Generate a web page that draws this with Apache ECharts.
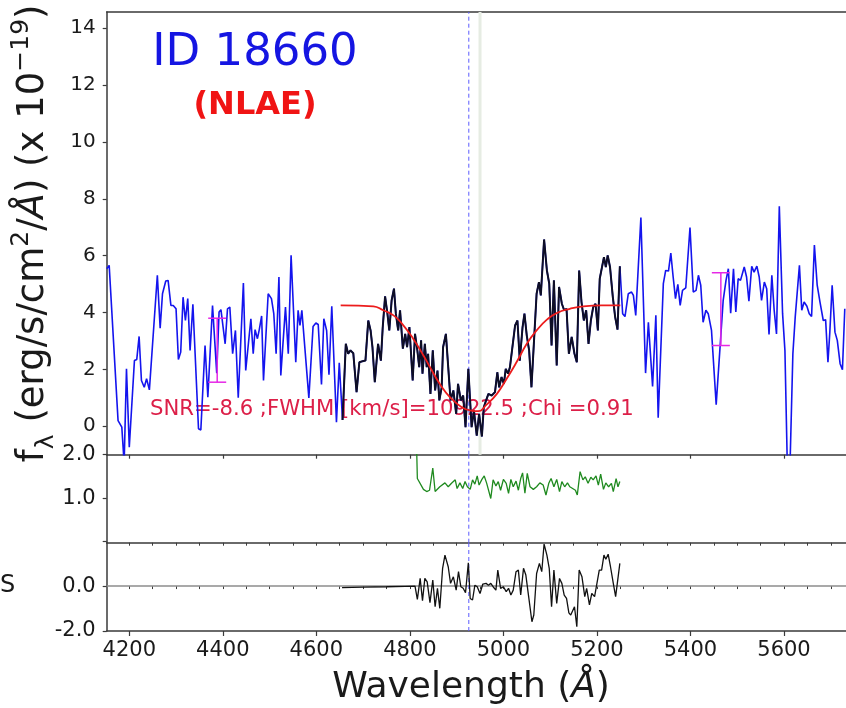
<!DOCTYPE html>
<html>
<head>
<meta charset="utf-8">
<script src="https://cdn.jsdelivr.net/npm/echarts@6/dist/echarts.min.js"></script>
<style>
  html, body { margin: 0; padding: 0; background: #ffffff; }
  #chart { width: 846px; height: 708px; }
</style>
</head>
<body>
<div id="chart"></div>
<script>
// ---- Spectrum of ID 18660 (flux in 1e-19 erg/s/cm^2/A) ----
const specWave = [
  4152, 4157, 4176, 4184, 4189, 4194, 4200, 4211, 4216, 4221, 4226, 4232, 4237, 4243,
  4260, 4266, 4271, 4278, 4283, 4289, 4294, 4300, 4305, 4310, 4315, 4320, 4325, 4330,
  4336, 4348, 4353, 4362, 4368, 4378, 4387, 4392, 4396, 4400, 4405, 4410, 4415, 4421,
  4427, 4433, 4444, 4449, 4460, 4465, 4469, 4474, 4478, 4483, 4487, 4497, 4504, 4509,
  4514, 4520, 4524, 4534, 4540, 4546, 4556, 4561, 4565, 4569, 4584, 4593, 4599, 4604,
  4611, 4616, 4622, 4627, 4633, 4643, 4649,
  4656, 4663, 4668, 4673, 4679, 4686, 4692, 4699, 4705, 4711, 4716, 4720, 4725, 4732,
  4738, 4742, 4747, 4752, 4756, 4761, 4766, 4770, 4775, 4779, 4785, 4790, 4794, 4799,
  4806, 4811, 4816, 4820, 4824, 4827, 4832, 4836, 4839, 4844, 4849, 4854, 4859, 4863,
  4868, 4871, 4877, 4882, 4887, 4893, 4899, 4903, 4909, 4914, 4919, 4925, 4932, 4937,
  4943, 4948, 4954, 4958, 4963, 4968, 4975, 4982, 4987, 4991, 4996, 5001, 5005, 5010,
  5014, 5025, 5030, 5035, 5041, 5045, 5050, 5055, 5060, 5071, 5076, 5080, 5087, 5093,
  5098, 5103, 5108, 5114, 5119, 5125, 5130, 5135, 5140, 5146, 5152, 5157, 5162, 5167,
  5172, 5177, 5182, 5187, 5192, 5197, 5202, 5206, 5210, 5215, 5219, 5223, 5228, 5234,
  5239, 5244, 5249,
  5255, 5260, 5267, 5274, 5278, 5283, 5294, 5304, 5310, 5319, 5326, 5331, 5342, 5347,
  5353, 5358, 5363, 5368, 5373, 5378, 5383, 5390, 5399, 5406, 5412, 5417, 5422, 5427,
  5433, 5438, 5445, 5455, 5470, 5476, 5481, 5486, 5492, 5497, 5502, 5507, 5515, 5520,
  5525, 5531, 5536, 5542, 5547, 5552, 5558, 5563, 5568, 5574, 5579, 5584, 5590, 5597,
  5602, 5607, 5613, 5619, 5624, 5628, 5633, 5638, 5643, 5649, 5654, 5659, 5665, 5671,
  5677, 5684, 5689, 5694, 5698, 5703, 5709, 5714, 5720, 5725, 5730
];
const specFlux = [
  5.54, 5.66, 0.20, -0.03, -1.30, 2.02, -0.74, 2.31, 2.35, 3.16, 1.61, 1.37, 1.67, 1.28,
  5.31, 3.45, 4.66, 5.11, 5.13, 4.25, 4.25, 4.13, 2.35, 2.61, 4.54, 3.72, 4.49, 2.67,
  4.29, -0.09, -0.13, 2.84, 1.02, 4.25, 1.87, 4.02, 4.10, 4.16, 2.90, 4.13, 4.19, 2.55,
  3.37, 1.00, 5.04, 1.96, 3.78, 2.55, 3.40, 3.08, 3.40, 3.88, 1.61, 4.66, 4.49, 3.96,
  2.55, 5.25, 1.79, 4.19, 2.55, 6.01, 2.25, 4.08, 3.55, 4.08, 1.00, 3.51, 3.63, 3.58,
  1.47, 3.78, 3.37, 1.81, 4.22, 0.14, 2.23,
  0.22, 2.90, 2.55, 2.67, 2.57, 1.20, 2.25, 2.29, 2.31, 3.72, 3.37, 2.78, 1.55, 2.90,
  2.31, 3.49, 4.57, 3.96, 3.37, 4.43, 4.84, 3.96, 3.37, 4.08, 2.73, 3.25, 2.78, 3.49,
  1.61, 3.25, 2.67, 2.08, 3.02, 1.85, 2.90, 2.08, 2.55, 1.14, 2.67, 1.26, 1.96, 0.91,
  1.37, 2.78, 3.25, 2.08, 0.91, 1.26, 0.44, 1.49, 0.91, 1.08, -0.03, 2.02, -0.03, 0.55,
  -0.33, 0.44, -0.36, 0.67, 0.91, 1.14, 1.08, 1.20, 1.90, 1.37, 1.73, 1.49, 2.02, 1.85,
  2.08, 3.55, 3.72, 2.31, 3.49, 3.96, 3.19, 2.67, 1.37, 4.66, 5.07, 4.60, 6.57, 5.48,
  5.02, 2.84, 5.13, 2.14, 4.90, 4.31, 4.08, 4.13, 2.55, 3.14, 2.55, 2.25, 5.48, 4.37,
  3.72, 4.08, 2.90, 3.72, 4.19, 4.31, 3.37, 5.19, 5.13, 5.95, 5.60, 6.01, 5.60, 4.54,
  3.84, 3.40, 5.63,
  3.96, 3.86, 4.66, 4.72, 4.60, 3.90, 7.34, 1.87, 3.66, 1.40, 3.90, 0.30, 5.02, 5.48,
  5.46, 6.09, 5.25, 4.49, 4.99, 4.25, 4.78, 4.87, 6.99, 4.72, 4.78, 5.31, 4.96, 3.66,
  4.08, 3.96, 3.37, 0.76, 4.43, 5.13, 5.54, 3.98, 5.54, 4.02, 5.19, 5.13, 5.60, 5.25,
  4.40, 5.63, 5.42, 5.63, 5.25, 4.43, 5.07, 4.84, 3.23, 5.31, 4.08, 3.25, 7.74, 3.96,
  2.67, -1.30, -1.30, 2.55, 3.84, 3.86, 5.66, 4.08, 4.37, 4.22, 3.96, 3.86, 6.37, 4.96,
  4.37, 3.72, 3.75, 2.25, 3.31, 4.96, 3.31, 3.02, 2.20, 1.99, 4.13
];

// Wavelength window used for the line fit
const fitWindow = [4656, 5249];

// Fitted absorption profile
const modelWave = [
  4652, 4690, 4722, 4743, 4765, 4783, 4807, 4829, 4843, 4864, 4886, 4911, 4932,
  4946, 4964, 4986, 5007, 5028, 5050, 5071, 5093, 5114, 5142, 5171, 5210, 5250
];
const modelFlux = [
  4.25, 4.24, 4.22, 4.08, 3.90, 3.61, 3.08, 2.49, 2.08, 1.49, 1.02, 0.67, 0.55,
  0.53, 0.76, 1.14, 1.67, 2.25, 2.90, 3.37, 3.75, 3.98, 4.13, 4.22, 4.25, 4.25
];

// Flux uncertainty bars
const errWave = [4388, 5465];
const errLow = [1.55, 2.84];
const errHigh = [3.80, 5.40];

// Middle panel (noise ratio)
const noiseWave = [
  4813, 4816, 4829, 4836, 4842, 4845, 4849, 4854, 4864, 4875, 4882, 4889, 4897, 4901,
  4907, 4913, 4918, 4923, 4929, 4934, 4939, 4944, 4948, 4954, 4959, 4964, 4973, 4978,
  4984, 4989, 4994, 5000, 5006, 5011, 5016, 5021, 5027, 5032, 5037, 5041, 5046, 5051,
  5057, 5064, 5071, 5078, 5085, 5091, 5097, 5102, 5108, 5114, 5120, 5125, 5131, 5137,
  5142, 5148, 5154, 5158, 5164, 5170, 5175, 5181, 5187, 5192, 5198, 5203, 5208, 5214,
  5219, 5225, 5231, 5235, 5241, 5245, 5249
];
const noiseVal = [
  2.80, 1.45, 1.20, 1.15, 1.18, 1.15, 1.69, 1.15, 1.26, 1.35, 1.26, 1.34, 1.42, 1.22,
  1.35, 1.22, 1.38, 1.26, 1.20, 1.42, 1.32, 1.51, 1.30, 1.43, 1.51, 1.35, 0.99, 1.42,
  1.28, 1.38, 1.18, 1.43, 1.34, 1.11, 1.43, 1.26, 1.39, 1.18, 1.45, 1.58, 1.11, 1.57,
  1.26, 1.20, 1.26, 1.35, 1.30, 1.07, 1.34, 1.45, 1.26, 1.43, 1.15, 1.38, 1.26, 1.35,
  1.26, 1.22, 1.18, 1.07, 1.61, 1.42, 1.49, 1.34, 1.48, 1.42, 1.51, 1.30, 1.55, 1.20,
  1.35, 1.26, 1.34, 1.15, 1.45, 1.26, 1.38
];

// Bottom panel (fit residuals)
const residWave = [
  4655, 4700, 4750, 4790, 4811, 4816, 4822, 4827, 4832, 4837, 4843, 4849, 4854, 4859,
  4864, 4870, 4875, 4882, 4887, 4893, 4899, 4904, 4909, 4914, 4919, 4925, 4929, 4934,
  4939, 4944, 4950, 4956, 4963, 4968, 4973, 4978, 4984, 4988, 4994, 5000, 5006, 5011,
  5016, 5021, 5027, 5032, 5037, 5043, 5048, 5054, 5061, 5065, 5071, 5077, 5082, 5087,
  5093, 5098, 5103, 5108, 5114, 5120, 5125, 5130, 5135, 5140, 5144, 5148, 5152, 5157,
  5162, 5168, 5174, 5178, 5184, 5189, 5195, 5200, 5205, 5210, 5215, 5219, 5224, 5229,
  5235, 5240, 5244, 5249
];
const residVal = [
  -0.07, -0.05, -0.03, -0.01, 0.00, -0.59, 0.34, -0.65, 0.34, 0.19, -0.74, 0.27, -0.92, -0.10,
  -0.99, 0.79, 1.38, 0.86, 0.12, 0.41, -0.18, 0.64, -0.03, -0.10, -0.30, 1.04, -0.55, -0.62,
  0.04, -0.03, -0.33, 0.09, 0.12, 0.04, 0.12, -0.03, -0.18, 0.71, -0.10, -0.03, -0.25, -0.10,
  -0.40, -0.18, 0.64, 0.71, -0.40, 0.79, 0.49, -0.47, -1.59, -1.29, 0.56, 1.01, 0.64, 1.87,
  1.38, 0.79, -0.92, 0.71, -0.77, 0.34, 0.12, -0.40, -0.55, -1.19, -1.29, -1.21, -0.92, -1.81,
  0.71, 0.41, -0.47, -0.10, -0.84, -0.33, -0.47, 0.12, 0.71, 0.71, 1.38, 1.19, 1.42, 0.86,
  0.12, -0.47, -0.55, 1.01
];

// Reference wavelengths
const lineWave = 4926;   // expected line position (dashed)
const fitCenter = 4950;  // fitted centre marker

// Axis ticks
const waveMajor = [4200, 4400, 4600, 4800, 5000, 5200, 5400, 5600];
const waveMinor = [];
for (let w = 4200; w <= 5700; w += 50) waveMinor.push(w);
const fluxTicks = [0, 2, 4, 6, 8, 10, 12, 14];
const noiseTicks = [0, 1, 2];
const noiseLabels = [1, 2];
const residTicks = [-2, 0];

// Axis ranges
const X_MIN = 4151.7, X_MAX = 5732.6;
const fluxRange = [-1.0, 14.57];
const noiseRange = [-0.03, 2.0];
const residRange = [-2.0, 1.93];

const FONT = 'DejaVu Sans';
const AX = '#3a3a3a';
const GRID_LEFT = 106.7;

const pairs = (xs, ys) => xs.map((x, i) => [x, ys[i]]);
const specData = pairs(specWave, specFlux);
const fitData = specData.filter(p => p[0] >= fitWindow[0] && p[0] <= fitWindow[1]);

// vertical/horizontal reference line drawn as a two-point line series
function refLine(axisIdx, pts, style, z) {
  return {
    type: 'line', xAxisIndex: axisIdx, yAxisIndex: axisIdx, z: z,
    data: pts, showSymbol: false, symbol: 'none', clip: true, silent: true,
    lineStyle: style
  };
}
const dashStyle = () => ({ color: '#5a5aff', width: 1, type: [4, 3] });

function xAxisDef(grid, opts) {
  return Object.assign({
    type: 'value', gridIndex: grid, min: X_MIN, max: X_MAX, position: 'bottom',
    axisLine: { show: true, onZero: false, lineStyle: { color: AX, width: 1.5 } },
    axisTick: { show: false },
    axisLabel: { show: false },
    splitLine: { show: false }
  }, opts);
}

const option = {
  animation: false,
  backgroundColor: '#ffffff',
  grid: [
    { left: GRID_LEFT, top: 12, right: 0, height: 442.7 },
    { left: GRID_LEFT, top: 454.7, right: 0, height: 88 },
    { left: GRID_LEFT, top: 542.7, right: 0, height: 88.3 }
  ],
  xAxis: [
    xAxisDef(0, { axisTick: { show: true, length: 4, customValues: waveMajor, lineStyle: { color: AX, width: 1.2 } } }),
    xAxisDef(1, { axisTick: { show: true, length: 3, customValues: waveMinor, lineStyle: { color: AX, width: 1 } } }),
    xAxisDef(2, {
      axisTick: { show: true, length: 5, customValues: waveMajor, lineStyle: { color: AX, width: 1.2 } },
      axisLabel: { show: true, customValues: waveMajor, fontFamily: FONT, fontSize: 21, color: '#1a1a1a', margin: 9,
                   formatter: v => String(v) }
    }),
    xAxisDef(2, {
      axisLine: { show: false },
      axisTick: { show: true, length: 3, customValues: waveMinor, lineStyle: { color: AX, width: 1 } }
    }),
    // frame line along the top of the spectrum panel
    xAxisDef(0, { position: 'top' })
  ],
  yAxis: [
    {
      type: 'value', gridIndex: 0, min: fluxRange[0], max: fluxRange[1],
      axisLine: { show: true, lineStyle: { color: AX, width: 1.5 } },
      axisTick: { show: true, length: 4, customValues: fluxTicks, lineStyle: { color: AX, width: 1.2 } },
      axisLabel: { customValues: fluxTicks, fontFamily: FONT, fontSize: 20, color: '#1a1a1a', margin: 11 },
      splitLine: { show: false },
      name: '{t|f}{sub|λ}{t| (erg/s/cm}{sup|2}{t|/}{it|Å}{t|) (x 10}{sup|−19}{t|)}',
      nameLocation: 'middle',
      nameRotate: 90,
      nameGap: 48,
      nameTextStyle: {
        fontFamily: FONT, fontSize: 37, color: '#1a1a1a',
        rich: {
          t: { fontFamily: FONT, fontSize: 37, color: '#1a1a1a', lineHeight: 50, verticalAlign: 'middle' },
          it: { fontFamily: FONT, fontSize: 37, fontStyle: 'italic', color: '#1a1a1a', lineHeight: 50, verticalAlign: 'middle' },
          sup: { fontFamily: FONT, fontSize: 25, color: '#1a1a1a', lineHeight: 26, verticalAlign: 'top' },
          sub: { fontFamily: FONT, fontSize: 25, color: '#1a1a1a', lineHeight: 26, verticalAlign: 'bottom' }
        }
      }
    },
    {
      type: 'value', gridIndex: 1, min: noiseRange[0], max: noiseRange[1],
      axisLine: { show: true, lineStyle: { color: AX, width: 1.5 } },
      axisTick: { show: true, length: 4, customValues: noiseTicks, lineStyle: { color: AX, width: 1.2 } },
      axisLabel: { customValues: noiseLabels, fontFamily: FONT, fontSize: 21, color: '#1a1a1a', margin: 11,
                   formatter: v => v.toFixed(1) },
      splitLine: { show: false }
    },
    {
      type: 'value', gridIndex: 2, min: residRange[0], max: residRange[1],
      axisLine: { show: true, lineStyle: { color: AX, width: 1.5 } },
      axisTick: { show: true, length: 4, customValues: residTicks, lineStyle: { color: AX, width: 1.2 } },
      axisLabel: { customValues: residTicks, fontFamily: FONT, fontSize: 21, color: '#1a1a1a', margin: 11,
                   formatter: v => v.toFixed(1) },
      splitLine: { show: false }
    }
  ],
  series: [
    refLine(0, [[fitCenter, fluxRange[0]], [fitCenter, fluxRange[1]]], { color: '#e6ece3', width: 3, type: 'solid' }, 1),
    refLine(0, [[lineWave, fluxRange[0]], [lineWave, fluxRange[1]]], dashStyle(), 2),
    {
      name: 'spectrum', type: 'line', xAxisIndex: 0, yAxisIndex: 0, z: 3,
      data: specData, showSymbol: false, symbol: 'none', clip: true,
      lineStyle: { color: '#1414ee', width: 1.6 }
    },
    {
      name: 'fit window', type: 'line', xAxisIndex: 0, yAxisIndex: 0, z: 4,
      data: fitData, showSymbol: false, symbol: 'none', clip: true,
      lineStyle: { color: '#0e0e26', width: 2 }
    },
    {
      name: 'model', type: 'line', xAxisIndex: 0, yAxisIndex: 0, z: 5,
      data: pairs(modelWave, modelFlux), smooth: true, showSymbol: false, symbol: 'none',
      lineStyle: { color: '#ec1c1c', width: 1.8 }
    },
    {
      name: 'error', type: 'custom', xAxisIndex: 0, yAxisIndex: 0, z: 6,
      data: errWave.map((w, i) => [w, errLow[i], errHigh[i]]),
      renderItem: function (params, api) {
        const lo = api.coord([api.value(0), api.value(1)]);
        const hi = api.coord([api.value(0), api.value(2)]);
        const hw = 9;
        const st = { stroke: '#e628e6', lineWidth: 1.5 };
        return {
          type: 'group',
          children: [
            { type: 'line', shape: { x1: lo[0], y1: lo[1], x2: hi[0], y2: hi[1] }, style: st },
            { type: 'line', shape: { x1: lo[0] - hw, y1: lo[1], x2: lo[0] + hw, y2: lo[1] }, style: st },
            { type: 'line', shape: { x1: hi[0] - hw, y1: hi[1], x2: hi[0] + hw, y2: hi[1] }, style: st }
          ]
        };
      }
    },
    refLine(1, [[lineWave, noiseRange[0]], [lineWave, noiseRange[1]]], dashStyle(), 2),
    {
      name: 'noise', type: 'line', xAxisIndex: 1, yAxisIndex: 1, z: 3,
      data: pairs(noiseWave, noiseVal), showSymbol: false, symbol: 'none', clip: true,
      lineStyle: { color: '#1f8a1f', width: 1.3 }
    },
    refLine(2, [[X_MIN, 0], [X_MAX, 0]], { color: '#8c8c8c', width: 1.5, type: 'solid' }, 1),
    refLine(2, [[lineWave, residRange[0]], [lineWave, residRange[1]]], dashStyle(), 2),
    {
      name: 'residual', type: 'line', xAxisIndex: 2, yAxisIndex: 2, z: 3,
      data: pairs(residWave, residVal), showSymbol: false, symbol: 'none', clip: true,
      lineStyle: { color: '#111111', width: 1.3 }
    }
  ],
  graphic: [
    { type: 'text', x: 255, y: 53, style: { text: 'ID 18660', font: '45px "DejaVu Sans"', fill: '#1515e2', align: 'center', verticalAlign: 'middle' } },
    { type: 'text', x: 255, y: 106, style: { text: '(NLAE)', font: 'bold 32px "DejaVu Sans"', fill: '#f01414', align: 'center', verticalAlign: 'middle' } },
    { type: 'text', x: 150, y: 409, z: 2, style: { text: 'SNR=-8.6 ;FWHM [km/s]=10922.5 ;Chi =0.91', font: '21.2px "DejaVu Sans"', fill: '#dc1f48', align: 'left', verticalAlign: 'middle' } },
    { type: 'text', x: 0, y: 586, style: { text: 'S', font: '24px "DejaVu Sans"', fill: '#1a1a1a', align: 'left', verticalAlign: 'middle' } },
    { type: 'text', x: 471, y: 688, style: {
        text: '{t|Wavelength (}{it|Å}{t|)}', align: 'center', verticalAlign: 'middle',
        rich: {
          t: { fontFamily: FONT, fontSize: 36, fill: '#1a1a1a' },
          it: { fontFamily: FONT, fontSize: 36, fontStyle: 'italic', fill: '#1a1a1a' }
        } } }
  ]
};

const chart = echarts.init(document.getElementById('chart'), null, { renderer: 'canvas' });
chart.setOption(option);
</script>
</body>
</html>
